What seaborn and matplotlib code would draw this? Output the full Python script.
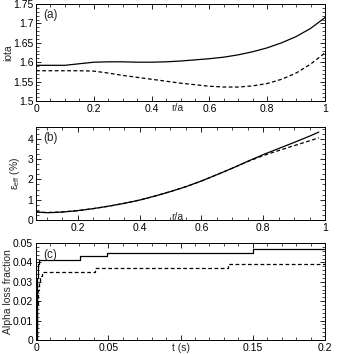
import numpy as np
import pandas as pd
import seaborn as sns
import matplotlib
matplotlib.use('Agg')
import matplotlib.pyplot as plt
from matplotlib.ticker import MultipleLocator, FuncFormatter

# (a) rotational transform profiles
r_iota = [0.0, 0.05, 0.1, 0.15, 0.2, 0.25, 0.3, 0.35, 0.4, 0.45, 0.5,
          0.55, 0.6, 0.65, 0.7, 0.75, 0.8, 0.85, 0.9, 0.95, 1.0]
iota_solid = [1.592, 1.592, 1.592, 1.596, 1.600, 1.601, 1.601, 1.600, 1.600, 1.601, 1.603,
              1.606, 1.609, 1.613, 1.619, 1.627, 1.637, 1.650, 1.666, 1.687, 1.715]
iota_dashed = [1.578, 1.578, 1.578, 1.578, 1.577, 1.572, 1.566, 1.561, 1.556, 1.551, 1.546,
               1.542, 1.538, 1.536, 1.536, 1.539, 1.545, 1.556, 1.572, 1.595, 1.624]

# (b) effective ripple profiles
r_eps = [0.065, 0.08, 0.1, 0.125, 0.15, 0.2, 0.25, 0.3, 0.35, 0.4, 0.45,
         0.5, 0.55, 0.6, 0.65, 0.7, 0.75, 0.8, 0.85, 0.9, 0.95, 0.98]
eps_solid = [0.40, 0.38, 0.36, 0.37, 0.39, 0.46, 0.56, 0.68, 0.82, 0.98, 1.18,
             1.40, 1.64, 1.92, 2.23, 2.55, 2.89, 3.22, 3.52, 3.82, 4.13, 4.33]
eps_dashed = [0.40, 0.38, 0.37, 0.38, 0.40, 0.46, 0.56, 0.68, 0.82, 0.98, 1.18,
              1.40, 1.64, 1.92, 2.23, 2.55, 2.88, 3.17, 3.42, 3.66, 3.90, 4.05]

# (c) alpha particle loss fraction vs time
t_solid = [0.0, 0.0004, 0.0008, 0.0012, 0.0018, 0.0305, 0.049, 0.1505, 0.2]
loss_solid = [0.0, 0.015, 0.032, 0.039, 0.0412, 0.0431, 0.0450, 0.0470, 0.0470]
t_dashed = [0.0, 0.0005, 0.001, 0.0015, 0.002, 0.003, 0.004, 0.041, 0.133, 0.2]
loss_dashed = [0.0, 0.008, 0.018, 0.026, 0.030, 0.033, 0.0352, 0.0372, 0.0391, 0.0391]

sns.set_style('ticks')
plt.rcParams['font.family'] = ['Liberation Sans', 'DejaVu Sans']
plt.rcParams['mathtext.default'] = 'regular'
plt.rcParams.update({
    'font.size': 7.5,
    'xtick.direction': 'in', 'ytick.direction': 'in',
    'xtick.top': True, 'ytick.right': True,
    'xtick.major.size': 3.5, 'ytick.major.size': 3.5,
    'xtick.minor.size': 2.0, 'ytick.minor.size': 2.0,
    'xtick.major.width': 0.6, 'ytick.major.width': 0.6,
    'xtick.minor.width': 0.5, 'ytick.minor.width': 0.5,
    'xtick.major.pad': 2, 'ytick.major.pad': 2,
    'xtick.minor.visible': True, 'ytick.minor.visible': True,
    'axes.linewidth': 0.7,
    'xtick.color': 'black', 'ytick.color': 'black',
    'axes.edgecolor': 'black',
})

fig = plt.figure(figsize=(3.54, 3.54), dpi=100)
left, width = 36 / 354, 289 / 354
ax_a = fig.add_axes([left, 1 - 101 / 354, width, 97 / 354])
ax_b = fig.add_axes([left, 1 - 220 / 354, width, 93 / 354])
ax_c = fig.add_axes([left, 1 - 340 / 354, width, 97 / 354])

style = dict(color='black', linewidth=0.9)
dash = (0, (3, 2))
fmt = FuncFormatter(lambda v, p: f'{v:g}')

# (a)
sns.lineplot(x=r_iota, y=iota_solid, ax=ax_a, **style)
sns.lineplot(x=r_iota, y=iota_dashed, ax=ax_a, linestyle=dash, **style)
ax_a.set_xlim(0, 1)
ax_a.set_ylim(1.5, 1.75)
ax_a.xaxis.set_major_locator(MultipleLocator(0.2))
ax_a.xaxis.set_minor_locator(MultipleLocator(0.05))
ax_a.yaxis.set_major_locator(MultipleLocator(0.05))
ax_a.yaxis.set_minor_locator(MultipleLocator(0.01))
ax_a.xaxis.set_major_formatter(fmt)
ax_a.yaxis.set_major_formatter(fmt)
ax_a.set_ylabel('iota')
ax_a.yaxis.set_label_coords(-0.08, 0.5)
ax_a.set_xlabel('r/a')
ax_a.xaxis.set_label_coords(0.49, -0.02)
ax_a.text(0.025, 0.89, '(a)', transform=ax_a.transAxes, fontsize=8.5, va='center')

# (b)
sns.lineplot(x=r_eps, y=eps_solid, ax=ax_b, **style)
sns.lineplot(x=r_eps, y=eps_dashed, ax=ax_b, linestyle=dash, **style)
ax_b.set_xlim(0.065, 1)
ax_b.set_ylim(0, 4.58)
ax_b.xaxis.set_major_locator(MultipleLocator(0.2))
ax_b.xaxis.set_minor_locator(MultipleLocator(0.05))
ax_b.yaxis.set_major_locator(MultipleLocator(1))
ax_b.yaxis.set_minor_locator(MultipleLocator(0.25))
ax_b.xaxis.set_major_formatter(fmt)
ax_b.set_ylabel('ε$_{eff}$ (%)')
ax_b.yaxis.set_label_coords(-0.05, 0.5)
ax_b.set_xlabel('r/a')
ax_b.xaxis.set_label_coords(0.49, 0.09)
ax_b.text(0.025, 0.88, '(b)', transform=ax_b.transAxes, fontsize=8.5, va='center')

# (c)
sns.lineplot(x=t_solid, y=loss_solid, ax=ax_c, drawstyle='steps-post', **style)
sns.lineplot(x=t_dashed, y=loss_dashed, ax=ax_c, drawstyle='steps-post',
             linestyle=dash, **style)
ax_c.set_xlim(0, 0.2)
ax_c.set_ylim(0, 0.05)
ax_c.xaxis.set_major_locator(MultipleLocator(0.05))
ax_c.xaxis.set_minor_locator(MultipleLocator(0.01))
ax_c.yaxis.set_major_locator(MultipleLocator(0.01))
ax_c.yaxis.set_minor_locator(MultipleLocator(0.002))
ax_c.xaxis.set_major_formatter(FuncFormatter(lambda v, p: '' if abs(v - 0.1) < 1e-9 else f'{v:g}'))
ax_c.yaxis.set_major_formatter(fmt)
ax_c.set_ylabel('Alpha loss fraction')
ax_c.yaxis.set_label_coords(-0.08, 0.5)
ax_c.set_xlabel('t (s)')
ax_c.xaxis.set_label_coords(0.5, -0.035)
ax_c.text(0.025, 0.875, '(c)', transform=ax_c.transAxes, fontsize=8.5, va='center')

fig.savefig('out.png', dpi=100)
